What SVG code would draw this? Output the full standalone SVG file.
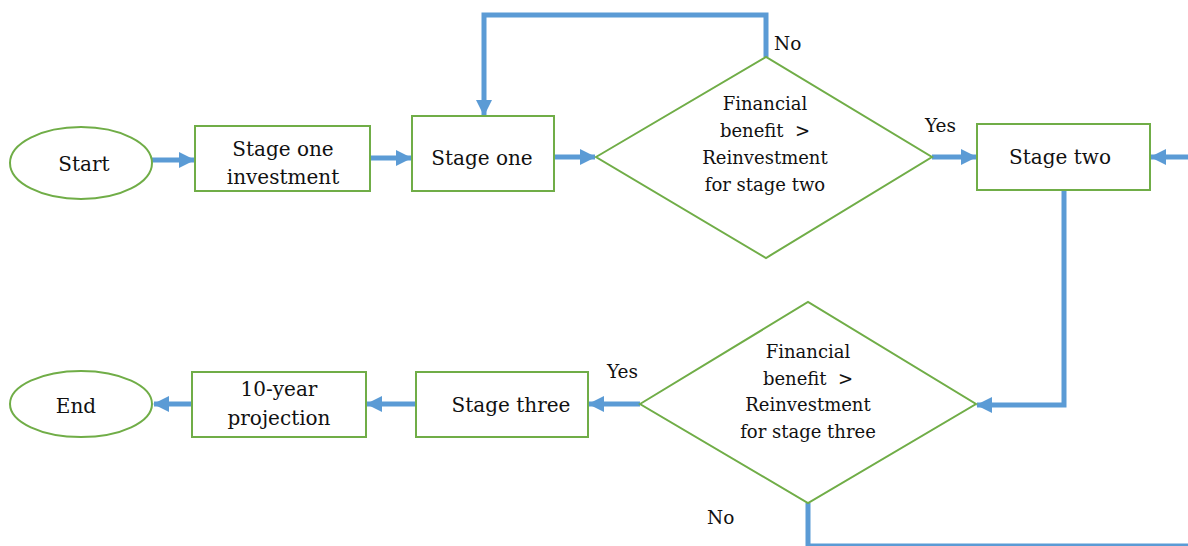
<svg xmlns="http://www.w3.org/2000/svg" width="1188" height="546" viewBox="0 0 1188 546">
<style>
.n{fill:#fff;stroke:#70AD47;stroke-width:2}
.c{fill:none;stroke:#5B9BD5;stroke-width:5}
text{font-family:'DejaVu Serif',serif;fill:#111}
.t{font-size:20px;text-anchor:middle}
.d{font-size:18px;text-anchor:middle}
.l{font-size:18.5px}
</style>
<defs>
<marker id="ah" markerUnits="userSpaceOnUse" markerWidth="16" markerHeight="18" viewBox="0 0 16 18" refX="15" refY="9" orient="auto">
<path d="M0,1 L16,9 L0,17 Z" fill="#5B9BD5"/>
</marker>
</defs>
<rect width="1188" height="546" fill="#fff"/>
<g id="connectors">
<path class="c" d="M152,160 L194,160" marker-end="url(#ah)"/>
<path class="c" d="M370,158 L411,158" marker-end="url(#ah)"/>
<path class="c" d="M554,157 L595,157" marker-end="url(#ah)"/>
<path class="c" d="M766,57 L766,15 L484,15 L484,115" marker-end="url(#ah)"/>
<path class="c" d="M932,157 L976,157" marker-end="url(#ah)"/>
<path class="c" d="M1188,157 L1151,157" marker-end="url(#ah)"/>
<path class="c" d="M1064,190 L1064,405 L977,405" marker-end="url(#ah)"/>
<path class="c" d="M640,404 L589,404" marker-end="url(#ah)"/>
<path class="c" d="M416,404 L367,404" marker-end="url(#ah)"/>
<path class="c" d="M192,404 L154,404" marker-end="url(#ah)"/>
<path class="c" d="M808,503 L808,546 M808,546 L1188,546"/>
</g>
<g id="start">
<ellipse class="n" cx="81" cy="163" rx="71" ry="36"/>
<text class="t" x="84" y="171">Start</text>
</g>
<g id="stage-one-investment">
<rect class="n" x="195" y="126" width="175" height="65"/>
<text class="t" x="283" y="156">Stage one</text>
<text class="t" x="283" y="184">investment</text>
</g>
<g id="stage-one">
<rect class="n" x="412" y="116" width="142" height="75"/>
<text class="t" x="482" y="165">Stage one</text>
</g>
<g id="decision-two">
<polygon class="n" points="596,157 766,57 932,157 766,258"/>
<text class="d" x="765" y="110">Financial</text>
<text class="d" x="765" y="137" xml:space="preserve">benefit  &gt;</text>
<text class="d" x="765" y="164">Reinvestment</text>
<text class="d" x="765" y="191">for stage two</text>
<text class="l" x="774" y="50">No</text>
<text class="l" x="925" y="132">Yes</text>
</g>
<g id="stage-two">
<rect class="n" x="977" y="124" width="173" height="66"/>
<text class="t" x="1060" y="164">Stage two</text>
</g>
<g id="decision-three">
<polygon class="n" points="640,404 808,302 976,404 808,503"/>
<text class="d" x="808" y="358">Financial</text>
<text class="d" x="808" y="385" xml:space="preserve">benefit  &gt;</text>
<text class="d" x="808" y="411">Reinvestment</text>
<text class="d" x="808" y="438">for stage three</text>
<text class="l" x="607" y="378">Yes</text>
<text class="l" x="707" y="524">No</text>
</g>
<g id="stage-three">
<rect class="n" x="416" y="372" width="172" height="65"/>
<text class="t" x="511" y="412">Stage three</text>
</g>
<g id="projection">
<rect class="n" x="192" y="372" width="174" height="65"/>
<text class="t" x="279" y="396">10-year</text>
<text class="t" x="279" y="425">projection</text>
</g>
<g id="end">
<ellipse class="n" cx="81" cy="404" rx="71" ry="33"/>
<text class="t" x="76" y="413">End</text>
</g>
</svg>
